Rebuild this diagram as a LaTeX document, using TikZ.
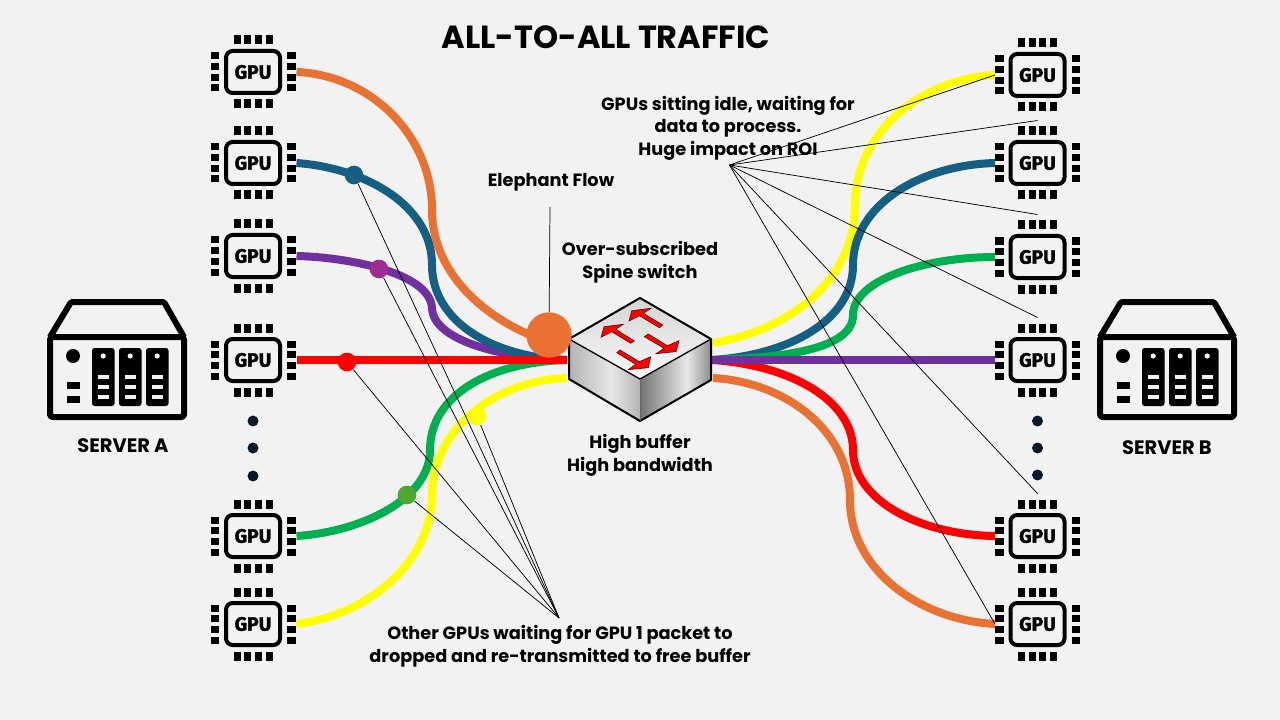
\documentclass[tikz,border=0pt]{standalone}
\usepackage{fontspec}
\setmainfont{Poppins}
\newfontfamily\gpufont{Fira Sans}[BoldFeatures={FakeBold=1.8}]
\definecolor{pagebg}{RGB}{242,242,242}
\pgfdeclarehorizontalshading{leftface}{100bp}{color(0bp)=(black!30); color(25bp)=(black!30); color(55bp)=(black!9); color(75bp)=(black!30); color(100bp)=(black!30)}
\pgfdeclarehorizontalshading{rightface}{100bp}{color(0bp)=(black!55); color(25bp)=(black!55); color(58bp)=(black!9); color(75bp)=(black!45); color(100bp)=(black!45)}
\pgfdeclareverticalshading{topface}{100bp}{color(0bp)=(white); color(25bp)=(black!2); color(75bp)=(black!17); color(100bp)=(black!17)}
\tikzset{every picture/.style={line width=0.75pt}}
\tikzset{
  wire/.style={line width=6pt},
  wireorange/.style={wire, color={rgb, 255:red, 233; green, 113; blue, 50 }},
  wireblue/.style={wire, color={rgb, 255:red, 21; green, 96; blue, 130 }},
  wirepurple/.style={wire, color={rgb, 255:red, 112; green, 48; blue, 160 }},
  wirered/.style={wire, color={rgb, 255:red, 255; green, 0; blue, 0 }},
  wiregreen/.style={wire, color={rgb, 255:red, 0; green, 176; blue, 80 }},
  wireyellow/.style={wire, color={rgb, 255:red, 255; green, 255; blue, 0 }},
  wiredot/.style={circle, inner sep=0pt, minimum size=14pt},
  callout/.style={line width=0.55pt, color=black},
  label/.style={align=center, font=\bfseries\fontsize{13.3pt}{16.9pt}\selectfont, inner sep=0pt},
  serverlabel/.style={label, font=\bfseries\fontsize{14.6pt}{16pt}\selectfont},
  swarrow/.style={fill={rgb, 255:red, 255; green, 0; blue, 0 }, draw=black!70!red, line width=0.4pt},
  pics/gpuchip/.style={code={
    \node [draw, line width=3pt, rounded corners=5pt, minimum width=40.5pt, minimum height=31.5pt, inner sep=0pt, font=\gpufont\bfseries\fontsize{14.5pt}{15pt}\selectfont] (-body) at (0,0) {GPU};
    \foreach \pin in {-16,-5.3,5.3,16} {
      \fill (\pin-3.5,-36.5) rectangle (\pin+3.5,-27.5);
      \fill (\pin-3.5,27.5) rectangle (\pin+3.5,36.5);
      \fill (-42.5,\pin-3.5) rectangle (-34,\pin+3.5);
      \fill (34,\pin-3.5) rectangle (42.5,\pin+3.5);
    }
    \coordinate (-out) at (43.5,0);
    \coordinate (-in) at (-42.5,0);
    \coordinate (-top) at (0,42.5);
  }},
  pics/serverbox/.style={code={
    \begin{scope}[yscale=-1]
    \draw [line width=4.5pt, line join=round, rounded corners=1pt] (-67,-23) -- (-46,-58) -- (47,-58) -- (67,-23);
    \draw [line width=4.5pt, line join=round, rounded corners=2pt] (-67,-23) rectangle (67,57);
    \foreach \bay in {-25,2,29} {
      \fill [rounded corners=2pt] (\bay,-12) rectangle (\bay+22.5,46);
      \fill [color=pagebg] (\bay+11.2,-4) circle (2.6);
      \foreach \slot in {17,27,37} {
        \fill [color=pagebg] (\bay+6,\slot-1.6) rectangle (\bay+17,\slot+1.6);
      }
    }
    \fill (-44,-4) circle (7);
    \fill (-50.5,22) rectangle (-37.5,29);
    \fill (-50.5,36) rectangle (-37.5,43);
    \end{scope}
  }}
}
\begin{document}
\begin{tikzpicture}[x=0.75pt,y=0.75pt,yscale=-1,xscale=1]
\fill [color=pagebg] (0,0) rectangle (1280,720);
\useasboundingbox (0,0) rectangle (1280,720);

%Servers
\pic at (117,360) {serverbox};
\pic at (1167,360) {serverbox};
\node [serverlabel] (servera) at (123,446) {SERVER A};
\node [serverlabel] (serverb) at (1167,448) {SERVER B};

%GPU left
\pic (a1) at (253,72) {gpuchip};
\pic (a2) at (253,163) {gpuchip};
\pic (a3) at (253,256) {gpuchip};
\pic (a4) at (253,360) {gpuchip};
\pic (a5) at (253,536) {gpuchip};
\pic (a6) at (253,624) {gpuchip};
%GPU right
\pic (b1) at (1037.5,75) {gpuchip};
\pic (b2) at (1037.5,163) {gpuchip};
\pic (b3) at (1037.5,257) {gpuchip};
\pic (b4) at (1037.5,360) {gpuchip};
\pic (b5) at (1037.5,536) {gpuchip};
\pic (b6) at (1037.5,624) {gpuchip};

%Shape: Dots
\foreach \dotx/\doty in {253/421,253/448,253/476,1037.5/421,1037.5/448,1037.5/475} {
  \fill [color={rgb, 255:red, 8; green, 24; blue, 38 }] (\dotx,\doty) circle (5.5);
}

%Switch ports
\coordinate (swl) at (567,360);
\coordinate (swly) at (567,378);
\coordinate (swr) at (712,360);
\coordinate (swrt) at (713,343);
\coordinate (swrb) at (713,378);

%Curve Lines left
\draw [wireorange] (a1-out) .. controls (370,75) and (432,135) .. (432,210) .. controls (432,270) and (480,315) .. (535,337);
\draw [wirepurple] (a3-out) .. controls (345,257) and (430,272) .. (432,308) .. controls (433,340) and (500,358) .. (swl);
\draw [wireblue] (a2-out) .. controls (365,168) and (432,205) .. (432,265) .. controls (432,320) and (490,357) .. (swl);
\draw [wireyellow] (a6-out) .. controls (370,615) and (432,560) .. (432,495) .. controls (432,430) and (495,380) .. (swly);
\draw [wiregreen] (a5-out) .. controls (360,532) and (430,500) .. (430,450) .. controls (430,395) and (490,362) .. (swl);
\draw [wirered] (a4-out) -- (swl);

%Curve Lines right
\draw [wireyellow] (swrt) .. controls (790,330) and (855,280) .. (855,205) .. controls (855,130) and (925,78) .. (b1-in);
\draw [wireblue] (swr) .. controls (790,355) and (853,320) .. (853,265) .. controls (853,205) and (920,165) .. (b2-in);
\draw [wiregreen] (swr) .. controls (780,358) and (853,350) .. (853,315) .. controls (853,280) and (925,257) .. (b3-in);
\draw [wirered] (swr) .. controls (790,365) and (853,400) .. (853,450) .. controls (853,500) and (920,535) .. (b5-in);
\draw [wireorange] (swrb) .. controls (785,382) and (850,430) .. (850,500) .. controls (850,570) and (920,620) .. (b6-in);
\draw [wirepurple] (swr) -- (b4-in);

%Shape: Switch
\shade [shading=leftface] (569,339) -- (640,379) -- (640,421) -- (569,379) -- cycle;
\shade [shading=rightface] (640,379) -- (711,339) -- (711,380) -- (640,421) -- cycle;
\shade [shading=topface] (640,298) -- (711,339) -- (640,379) -- (569,339) -- cycle;
\draw [line width=1.5pt, line join=round] (569,339) -- (640,298) -- (711,339) -- (711,380) -- (640,421) -- (569,379) -- cycle;
\draw [line width=1pt] (569,339) -- (640,379) -- (711,339);
\draw [line width=0.6pt, color=black!60] (640,379) -- (640,421);
%Shape: Switch arrows
\draw [swarrow] (631.7,310.7) -- (651,308.3) -- (643.3,313.3) -- (662.7,325) -- (659.3,327.7) -- (639.3,315.7) -- (629,321) -- cycle;
\draw [swarrow] (604,326.7) -- (623.3,324.3) -- (615.7,329.3) -- (634.3,341) -- (630.7,343.3) -- (611.7,331.7) -- (601,337.3) -- cycle;
\draw [swarrow] (648.3,334) -- (667.3,345.7) -- (679,340.7) -- (676,351.7) -- (656,353.7) -- (664,348.3) -- (644.3,336.7) -- cycle;
\draw [swarrow] (620,350) -- (639.3,361.7) -- (650.7,356.7) -- (648.3,367.7) -- (628.3,369.7) -- (635.7,364.3) -- (616.7,352.7) -- cycle;

%Callout nodes
\node [wiredot, fill={rgb, 255:red, 21; green, 96; blue, 130 }] (dotblue) at (354,175) {};
\node [wiredot, fill={rgb, 255:red, 160; green, 43; blue, 147 }] (dotpurple) at (379,269) {};
\node [wiredot, fill={rgb, 255:red, 255; green, 0; blue, 0 }] (dotred) at (347,362) {};
\node [wiredot, fill={rgb, 255:red, 78; green, 167; blue, 46 }] (dotgreen) at (407,495) {};
\node [wiredot, fill={rgb, 255:red, 255; green, 255; blue, 0 }] (dotyellow) at (477,416) {};
\node [circle, inner sep=0pt, minimum size=34pt, fill={rgb, 255:red, 233; green, 113; blue, 50 }] (blob) at (549,335) {};

%Straight Lines
\coordinate (eltop) at (550,207);
\coordinate (otherapex) at (559,618);
\coordinate (idleapex) at (729.5,165);
\draw [callout] (eltop) -- (blob);
\draw [callout] (otherapex) -- (dotblue);
\draw [callout] (otherapex) -- (dotpurple);
\draw [callout] (otherapex) -- (dotred);
\draw [callout] (otherapex) -- (dotgreen);
\draw [callout] (otherapex) -- (dotyellow);
\draw [callout] (idleapex) -- (b1-in);
\draw [callout] (idleapex) -- (b2-top);
\draw [callout] (idleapex) -- (b3-top);
\draw [callout] (idleapex) -- (b4-top);
\draw [callout] (idleapex) -- (b5-top);
\draw [callout] (idleapex) -- (b6-in);

% Text Node
\node [label, font=\bfseries\fontsize{24pt}{28pt}\selectfont] (title) at (606,37) {ALL-TO-ALL TRAFFIC};
\node [label] (elephant) at (551,182.5) {Elephant Flow};
\node [label] (spine) at (640,262) {Over-subscribed\\Spine switch};
\node [label] (buffer) at (640,455.5) {High buffer\\High bandwidth};
\node [label] (idle) at (728,128) {GPUs sitting idle, waiting for\\data to process.\\Huge impact on ROI};
\node [label] (other) at (560,646) {Other GPUs waiting for GPU 1 packet to\\dropped and re-transmitted to free buffer};

\end{tikzpicture}
\end{document}
